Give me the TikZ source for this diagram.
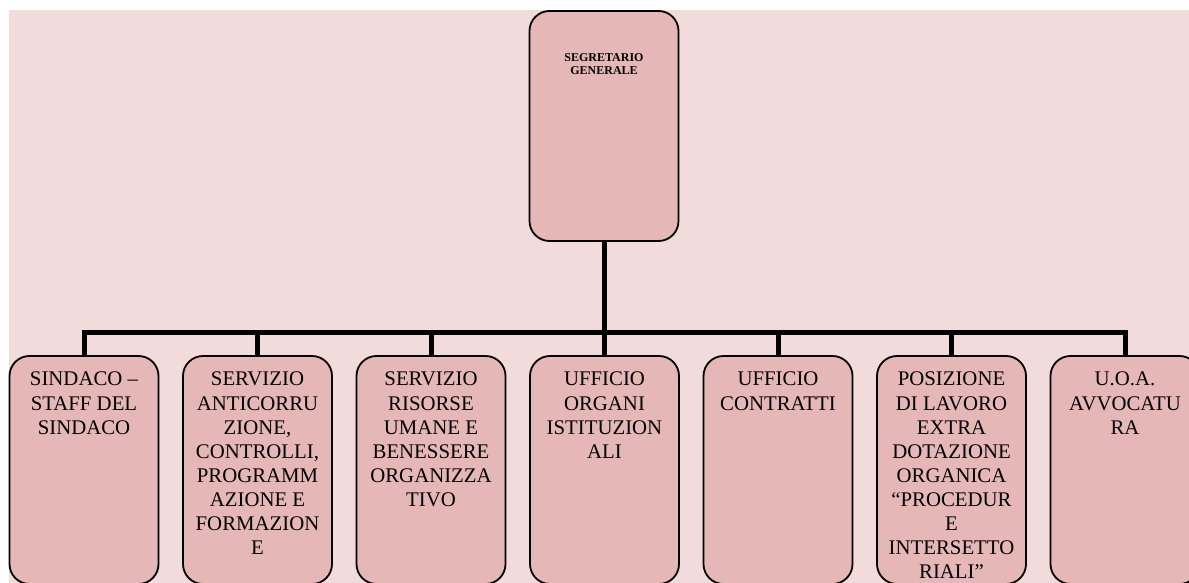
\documentclass[tikz,border=0pt]{standalone}
\usepackage{fontspec}
\setmainfont{Liberation Serif}
\definecolor{bgpink}{HTML}{F2DBDB}
\definecolor{boxpink}{HTML}{E5B8B7}
\tikzset{
  orgbox/.style={draw=black, line width=1.8pt, fill=boxpink, rounded corners=20pt,
    minimum width=149pt, inner sep=0pt},
  boxtext/.style={anchor=north, align=center, inner sep=0pt,
    font=\fontsize{20.8}{24.1}\selectfont},
  toptext/.style={anchor=north, align=center, inner sep=0pt,
    font=\fontsize{12}{13.5}\selectfont\bfseries},
  conn/.style={draw=black, line width=5pt}
}
\begin{document}
\begin{tikzpicture}[x=1pt,y=1pt]
\useasboundingbox (0,0) rectangle (1189,-583);
\clip (0,0) rectangle (1189,-583);
\fill[bgpink] (9,-10) rectangle (1189,-583);
\coordinate (bus) at (0,-332.5);
% top box
\node[orgbox, minimum height=230pt] (top) at (604,-126) {};
\node[toptext] (ttop) at (604,-53) {SEGRETARIO\\GENERALE};
% bottom boxes
\node[orgbox, minimum height=228pt] (b1) at (84,-470) {};
\node[orgbox, minimum height=228pt] (b2) at (257.5,-470) {};
\node[orgbox, minimum height=228pt] (b3) at (431,-470) {};
\node[orgbox, minimum height=228pt] (b4) at (604.5,-470) {};
\node[orgbox, minimum height=228pt] (b5) at (778,-470) {};
\node[orgbox, minimum height=228pt] (b6) at (951.5,-470) {};
\node[orgbox, minimum height=228pt] (b7) at (1125,-470) {};
\node[boxtext] (t1) at (84,-372) {SINDACO –\\STAFF DEL\\SINDACO};
\node[boxtext] (t2) at (257.5,-372) {SERVIZIO\\ANTICORRU\\ZIONE,\\CONTROLLI,\\PROGRAMM\\AZIONE E\\FORMAZION\\E};
\node[boxtext] (t3) at (431,-372) {SERVIZIO\\RISORSE\\UMANE E\\BENESSERE\\ORGANIZZA\\TIVO};
\node[boxtext] (t4) at (604.5,-372) {UFFICIO\\ORGANI\\ISTITUZION\\ALI};
\node[boxtext] (t5) at (778,-372) {UFFICIO\\CONTRATTI};
\node[boxtext] (t6) at (951.5,-372) {POSIZIONE\\DI LAVORO\\EXTRA\\DOTAZIONE\\ORGANICA\\“PROCEDUR\\E\\INTERSETTO\\RIALI”};
\node[boxtext] (t7) at (1125,-372) {U.O.A.\\AVVOCATU\\RA};
% connectors
\draw[conn] (top.south) -- (top.south |- bus);
\draw[conn] (b1.north) |- (bus -| b7.north) -- (b7.north);
\draw[conn] (b2.north) -- (b2.north |- bus);
\draw[conn] (b3.north) -- (b3.north |- bus);
\draw[conn] (b4.north) -- (b4.north |- bus);
\draw[conn] (b5.north) -- (b5.north |- bus);
\draw[conn] (b6.north) -- (b6.north |- bus);
\end{tikzpicture}
\end{document}
